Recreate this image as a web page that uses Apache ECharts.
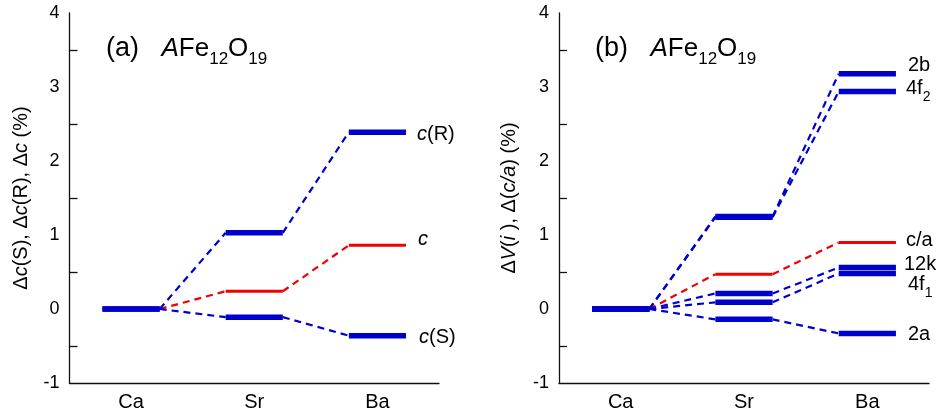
<!DOCTYPE html>
<html>
<head>
<meta charset="utf-8">
<script src="https://cdn.jsdelivr.net/npm/echarts@6/dist/echarts.min.js"></script>
<style>
  html, body { margin: 0; padding: 0; background: #fff; }
  #chart { width: 941px; height: 415px; }
</style>
</head>
<body>
<div id="chart"></div>
<script>
// A-site cations of the hexaferrite AFe12O19
const cations = ['Ca', 'Sr', 'Ba'];
const yTicks = [-1, 0, 1, 2, 3, 4];

// (a) relative change (%) of the c parameter and of its R / S block parts
const dcR = [0, 1.03, 2.39];
const dcTotal = [0, 0.24, 0.86];
const dcS = [0, -0.11, -0.36];

// (b) relative change (%) of the cation polyhedra volumes and of c/a
const dV2b = [0, 1.25, 3.18];
const dV4f2 = [0, 1.24, 2.94];
const dCoverA = [0, 0.47, 0.90];
const dV12k = [0, 0.21, 0.56];
const dV4f1 = [0, 0.09, 0.48];
const dV2a = [0, -0.14, -0.33];

const FONT = '"Liberation Sans", Arial, Helvetica, sans-serif';
const BLUE = '#0000cc';
const RED = '#f00000';

const labelRich = {
  i: { fontStyle: 'italic', fontSize: 20, fontFamily: FONT, color: '#000' },
  m: { fontSize: 20, fontFamily: FONT, color: '#000', padding: [0, 0, 6, 0], verticalAlign: 'bottom' },
  s: { fontSize: 14, fontFamily: FONT, color: '#000', verticalAlign: 'bottom' }
};

// One energy-level style series: a short bar per cation joined by dashed connectors
function levelSeries(values, axis, color, barWidth, label, dx, dy) {
  return {
    type: 'custom',
    xAxisIndex: axis,
    yAxisIndex: axis,
    encode: { x: 0, y: 1 },
    data: values.map((v, i) => [i, v, i > 0 ? values[i - 1] : v]),
    renderItem(params, api) {
      const i = api.value(0);
      const p = api.coord([i, api.value(1)]);
      const hw = api.size([1, 0])[0] * 0.232;
      const children = [];
      if (i > 0) {
        const q = api.coord([i - 1, api.value(2)]);
        children.push({
          type: 'line',
          shape: { x1: q[0] + hw, y1: q[1], x2: p[0] - hw, y2: p[1] },
          style: { stroke: color, lineWidth: 2.2, lineDash: [7, 5] }
        });
      }
      children.push({
        type: 'line',
        shape: { x1: p[0] - hw, y1: p[1], x2: p[0] + hw, y2: p[1] },
        style: { stroke: color, lineWidth: barWidth }
      });
      if (label && i === values.length - 1) {
        children.push({
          type: 'text',
          x: p[0] + hw + dx,
          y: p[1] + dy,
          style: {
            text: label, rich: labelRich, fill: '#000',
            fontSize: 20, fontFamily: FONT,
            align: 'left', verticalAlign: 'middle'
          }
        });
      }
      return { type: 'group', children };
    }
  };
}

function xAxisCfg(grid) {
  return {
    type: 'category', gridIndex: grid, data: cations, boundaryGap: true,
    axisLine: { onZero: false, lineStyle: { color: '#111', width: 1.3 } },
    axisTick: { alignWithLabel: true, inside: true, length: 9, lineStyle: { color: '#111', width: 1.3 } },
    axisLabel: { fontSize: 20, fontFamily: FONT, color: '#000', margin: 9 },
    splitLine: { show: false }
  };
}

function yAxisCfg(grid, name, gap) {
  return {
    type: 'value', gridIndex: grid, min: yTicks[0], max: yTicks[yTicks.length - 1], interval: 1,
    name: name, nameLocation: 'middle', nameRotate: 90, nameGap: gap,
    nameTextStyle: {
      fontSize: 20, fontFamily: FONT, color: '#000',
      rich: {
        n: { fontSize: 20, fontFamily: FONT, color: '#000' },
        i: { fontSize: 20, fontFamily: FONT, color: '#000', fontStyle: 'italic' }
      }
    },
    axisLine: { show: true, lineStyle: { color: '#111', width: 1.3 } },
    axisTick: { inside: true, length: 9, lineStyle: { color: '#111', width: 1.3 } },
    minorTick: { show: true, splitNumber: 2, length: 8, lineStyle: { color: '#111', width: 1.3 } },
    axisLabel: { fontSize: 18, fontFamily: FONT, color: '#000', margin: 10 },
    splitLine: { show: false },
    minorSplitLine: { show: false }
  };
}

function panelTitle(tag, left) {
  const base = { fontFamily: FONT, color: '#000', fontWeight: 'normal', verticalAlign: 'bottom' };
  return {
    text: '{p|' + tag + '   }{i|A}{m|Fe}{s|12}{m|O}{s|19}',
    left: left, top: 30,
    textStyle: {
      fontWeight: 'normal',
      rich: {
        p: Object.assign({ fontSize: 27, padding: [0, 0, 6, 0] }, base),
        i: Object.assign({ fontSize: 26, fontStyle: 'italic', padding: [0, 0, 6, 0] }, base),
        m: Object.assign({ fontSize: 26, padding: [0, 0, 6, 0] }, base),
        s: Object.assign({ fontSize: 17 }, base)
      }
    }
  };
}

const chart = echarts.init(document.getElementById('chart'), null, { renderer: 'canvas' });
chart.setOption({
  animation: false,
  backgroundColor: '#fff',
  title: [panelTitle('(a)', 101), panelTitle('(b)', 590)],
  grid: [
    { left: 69.5, top: 13, width: 369.5, height: 370 },
    { left: 559, top: 13, width: 370, height: 370 }
  ],
  xAxis: [xAxisCfg(0), xAxisCfg(1)],
  yAxis: [
    yAxisCfg(0, '{n|Δ}{i|c}{n|(S), Δ}{i|c}{n|(R), Δ}{i|c}{n| (%)}', 38),
    yAxisCfg(1, '{n|Δ}{i|V}{n|(}{i|i}{n| ), Δ(}{i|c/a}{n|) (%)}', 40)
  ],
  series: [
    levelSeries(dcTotal, 0, RED, 3, '{i|c}', 12, -6),
    levelSeries(dcS, 0, BLUE, 5.5, '{i|c}(S)', 13, 2),
    levelSeries(dcR, 0, BLUE, 5.5, '{i|c}(R)', 11, 2),

    levelSeries(dCoverA, 1, RED, 3, 'c/a', 10, -2),
    levelSeries(dV2a, 1, BLUE, 5.5, '2a', 12, 1),
    levelSeries(dV4f1, 1, BLUE, 5.5, '{m|4f}{s|1}', 12, 14),
    levelSeries(dV12k, 1, BLUE, 5.5, '12k', 8, -3),
    levelSeries(dV4f2, 1, BLUE, 5.5, '{m|4f}{s|2}', 10, 0),
    levelSeries(dV2b, 1, BLUE, 5.5, '2b', 12, -8)
  ]
});
</script>
</body>
</html>
